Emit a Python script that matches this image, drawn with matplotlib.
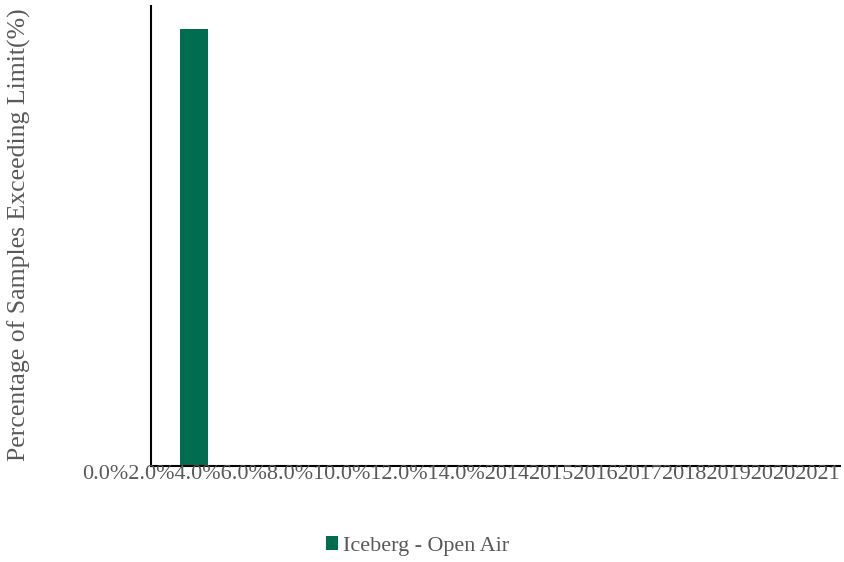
import matplotlib
matplotlib.use("Agg")
import matplotlib.pyplot as plt
from matplotlib.patches import Patch

# Data
years = ['2014', '2015', '2016', '2017', '2018', '2019', '2020', '2021']
values = [15.2, 0, 0, 0, 0, 0, 0, 0]
pct_labels = ['0.0%', '2.0%', '4.0%', '6.0%', '8.0%', '10.0%', '12.0%', '14.0%']
series_name = 'Iceberg - Open Air'

bar_color = '#006d50'
text_color = '#595959'

plt.rcParams['font.family'] = ['Liberation Serif', 'DejaVu Serif']

fig = plt.figure(figsize=(8.45, 5.62), dpi=100)
ax = fig.add_axes([151 / 845, 96 / 562, 689 / 845, 460 / 562])

x = range(len(years))
ax.bar(x, values, width=0.325, color=bar_color, zorder=2)
ax.set_xlim(-0.5, len(years) - 0.5)
ax.set_ylim(0, 16)

ax.set_xticks([])
ax.set_yticks([])
for side in ['top', 'right']:
    ax.spines[side].set_visible(False)
for side in ['left', 'bottom']:
    ax.spines[side].set_linewidth(1.5)
    ax.spines[side].set_color('black')
    ax.spines[side].set_zorder(5)

# the labels of the original render run together along the bottom axis
fig.text(82 / 845, 83 / 562, ''.join(pct_labels + years), fontsize=15.9,
         color=text_color, ha='left', va='baseline', zorder=1)

fig.text(19 / 845, 327 / 562, 'Percentage of Samples Exceeding Limit(%)',
         fontsize=18.5, color=text_color, rotation=90, ha='center', va='center')

handles = [Patch(facecolor=bar_color, edgecolor='none')]
leg = fig.legend(handles, [series_name], loc='center', bbox_to_anchor=(417.5 / 845, 16 / 562),
                 frameon=False, fontsize=15.9, handlelength=0.55, handleheight=0.55,
                 handletextpad=0.25)
for t in leg.get_texts():
    t.set_color(text_color)

fig.savefig('out.png', dpi=100)
